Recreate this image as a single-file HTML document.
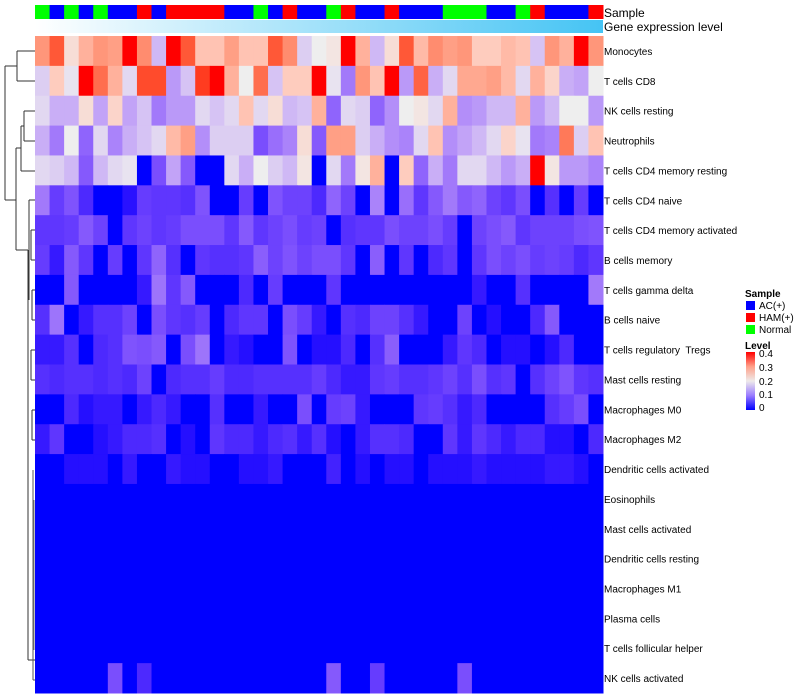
<!DOCTYPE html>
<html><head><meta charset="utf-8">
<style>
body{margin:0;background:#fff;}
svg{display:block;font-family:"Liberation Sans",sans-serif;}
#rowlabels text{white-space:pre;}
</style></head>
<body>
<svg id="chart" width="800" height="700" viewBox="0 0 800 700" xmlns="http://www.w3.org/2000/svg">
<defs>
<linearGradient id="geneGrad" x1="0" x2="1" y1="0" y2="0">
<stop offset="0" stop-color="#ffffff"/><stop offset="1" stop-color="#45c4f4"/>
</linearGradient>
<linearGradient id="levelGrad" x1="0" x2="0" y1="1" y2="0">
<stop offset="0" stop-color="#0000ff"/><stop offset="0.25" stop-color="#9a7cff"/><stop offset="0.5" stop-color="#eeeaea"/><stop offset="0.75" stop-color="#ff9f88"/><stop offset="1" stop-color="#ff0000"/>
</linearGradient>
</defs>
<g id="annot"></g>
<g id="cells"></g>
<g id="dendro" stroke="#333" stroke-width="1" fill="none">
<path d="M17,51 H35 M17,81 H35 M17,51 V81"/>
<path d="M24,111 H35 M24,141 H35 M24,111 V141"/>
<path d="M21,126 H24 M21,171 H35 M21,126 V171"/>
<path d="M16,148 H21 M16,250 H28 M16,148 V250"/>
<path d="M5,66 H17 M5,200 H16 M5,66 V200"/>
<path d="M29,200 H35 M29,200 V300"/>
<path d="M28,250 V660 M28,660 H35"/>
<path d="M31,230 H35 M31,260 H35 M31,230 V260"/>
<path d="M32,290 H35 M32,320 H35 M32,290 V320"/>
<path d="M31,350 H35 M31,380 H35 M31,350 V380"/>
<path d="M32,410 H35 M32,440 H35 M32,410 V440"/>
<path d="M33,470 V680 M33,680 H35" stroke="#555"/>
<path d="M34,500 V650" stroke="#777"/>
</g>
<text x="604" y="17" font-size="12">Sample</text>
<text x="604" y="31" font-size="12">Gene expression level</text>
<rect x="35" y="20" width="568" height="13" fill="url(#geneGrad)"/>
<g id="legend" font-size="10">
<text x="745" y="297" font-weight="bold">Sample</text>
<rect x="746" y="301" width="9" height="9" fill="#0000ff"/>
<text x="759" y="309">AC(+)</text>
<rect x="746" y="313" width="9" height="9" fill="#ff0000"/>
<text x="759" y="321">HAM(+)</text>
<rect x="746" y="325" width="9" height="9" fill="#00ff00"/>
<text x="759" y="333">Normal</text>
<text x="745" y="349" font-weight="bold">Level</text>
<rect x="746" y="352" width="9" height="58" fill="url(#levelGrad)"/>
<text x="759" y="357">0.4</text>
<text x="759" y="371">0.3</text>
<text x="759" y="385">0.2</text>
<text x="759" y="398">0.1</text>
<text x="759" y="411">0</text>
</g>
<g id="rowlabels" font-size="10"></g>
</svg>
<script>
const rowNames = ["Monocytes","T cells CD8","NK cells resting","Neutrophils","T cells CD4 memory resting","T cells CD4 naive","T cells CD4 memory activated","B cells memory","T cells gamma delta","B cells naive","T cells regulatory  Tregs","Mast cells resting","Macrophages M0","Macrophages M2","Dendritic cells activated","Eosinophils","Mast cells activated","Dendritic cells resting","Macrophages M1","Plasma cells","T cells follicular helper","NK cells activated"];
const sampleGroups = ["G","B","G","B","G","B","B","R","B","R","R","R","R","B","B","G","B","R","B","B","G","R","B","B","R","B","B","B","G","G","G","B","B","G","R","B","B","B","R"];
const z39 = new Array(39).fill(0);
const rowMonocytes = [0.3,0.36,0.22,0.27,0.3,0.29,0.4,0.31,0.15,0.4,0.36,0.25,0.25,0.29,0.25,0.25,0.36,0.31,0.17,0.2,0.21,0.4,0.27,0.15,0.22,0.36,0.26,0.31,0.29,0.3,0.24,0.24,0.26,0.25,0.16,0.3,0.27,0.4,0.3];
const rowCD8 = [0.17,0.24,0.19,0.4,0.34,0.27,0.18,0.37,0.37,0.12,0.16,0.38,0.4,0.27,0.2,0.34,0.16,0.24,0.24,0.4,0.19,0.09,0.3,0.25,0.4,0.12,0.35,0.14,0.18,0.28,0.28,0.29,0.26,0.18,0.27,0.23,0.14,0.13,0.2];
const rowNKrest = [0.18,0.14,0.14,0.22,0.13,0.23,0.13,0.16,0.09,0.12,0.12,0.18,0.16,0.18,0.25,0.18,0.22,0.15,0.16,0.27,0.07,0.18,0.17,0.07,0.11,0.2,0.21,0.18,0.27,0.11,0.12,0.15,0.15,0.27,0.12,0.15,0.2,0.2,0.12];
const rowNeut = [0.14,0.09,0.2,0.07,0.18,0.1,0.14,0.16,0.18,0.26,0.29,0.11,0.17,0.17,0.17,0.05,0.08,0.1,0.22,0.06,0.29,0.29,0.17,0.14,0.11,0.1,0.18,0.25,0.11,0.13,0.15,0.18,0.23,0.19,0.09,0.1,0.33,0.17,0.25];
const rowCD4memRest = [0.18,0.17,0.15,0.06,0.15,0.18,0.19,0,0.05,0.13,0.06,0,0,0.18,0.14,0.2,0.17,0.15,0.21,0,0.18,0.09,0.21,0.27,0,0.24,0.07,0.14,0.09,0.18,0.18,0.15,0.12,0.14,0.4,0.21,0.12,0.12,0.1];
const rowCD4naive = [0.09,0.035,0.055,0.02,0,0,0.006,0.035,0.03,0.03,0.025,0.055,0,0,0.035,0,0.055,0.04,0.04,0.02,0.07,0.04,0,0.1,0,0.08,0.03,0.06,0.09,0.06,0.07,0.04,0.03,0.05,0,0.025,0,0.035,0];
const rowCD4memAct = [0.03,0.03,0.035,0.06,0.04,0,0.03,0.04,0.03,0.035,0.05,0.05,0.05,0.03,0.06,0.03,0.04,0.05,0.035,0.04,0,0.025,0.03,0.03,0.05,0.04,0.04,0.05,0.035,0,0.04,0.05,0.06,0.03,0.04,0.04,0.04,0.05,0.055];
const rowBmem = [0.035,0.01,0.06,0.03,0,0.035,0,0.03,0.07,0.025,0,0.03,0.025,0.025,0.03,0.065,0.04,0.055,0.04,0.05,0.05,0.03,0,0.065,0,0.03,0,0.02,0.03,0,0.03,0.05,0.04,0.05,0.035,0.04,0.035,0.02,0.03];
const rowGammaDelta = [0,0,0.06,0,0,0,0,0.01,0.085,0.03,0.06,0,0,0,0.02,0,0.035,0,0,0,0.03,0,0,0,0,0,0,0,0,0,0.01,0,0,0.025,0,0,0,0,0.09];
const rowBnaive = [0.025,0.085,0,0.01,0.025,0.025,0.04,0,0.05,0.03,0.025,0.035,0,0.02,0.03,0.03,0,0.05,0.035,0.01,0,0.025,0.02,0.04,0.04,0.025,0.01,0,0,0.04,0,0.005,0,0,0.02,0.06,0,0,0];
const rowTregs = [0.01,0.01,0.025,0,0.02,0.025,0.055,0.05,0.06,0,0.05,0.085,0,0.01,0.005,0,0,0.055,0,0.005,0.005,0.02,0,0.025,0.065,0,0,0,0.01,0.03,0.02,0,0.005,0.005,0,0.005,0.02,0,0];
const rowMastRest = [0.025,0.02,0.025,0.025,0.02,0.025,0.02,0.04,0,0.02,0.025,0.025,0.035,0.02,0.02,0.025,0.025,0.025,0.025,0.035,0.02,0.01,0.01,0.03,0.035,0.025,0.025,0.03,0.04,0.025,0.05,0.025,0.03,0,0.025,0.04,0.055,0.03,0.025];
const rowM0 = [0,0,0.02,0.005,0.01,0.01,0,0.01,0.02,0.01,0,0,0.025,0,0,0.01,0,0,0.05,0,0.035,0.04,0.01,0,0,0,0.03,0.035,0.025,0.01,0.02,0,0,0,0,0.025,0.035,0.05,0];
const rowM2 = [0.01,0.03,0,0,0.005,0.01,0.02,0.02,0.025,0,0.005,0,0.03,0.02,0.02,0.01,0.02,0.025,0.01,0.025,0.005,0,0.01,0.025,0.025,0.02,0,0,0.03,0.01,0.03,0.02,0.01,0.02,0.02,0.005,0.005,0,0.02];
const rowDCact = [0,0,0.005,0.005,0.005,0,0.01,0,0,0.01,0.005,0.005,0,0,0.005,0.005,0.01,0,0,0,0.015,0,0.005,0,0.005,0.005,0,0.005,0.005,0.005,0.01,0.005,0.005,0.005,0.005,0.01,0.01,0.005,0];
const rowNKact = [0,0,0,0,0,0.05,0,0.02,0,0,0,0,0,0,0,0,0,0,0,0,0.06,0,0,0.035,0,0,0,0,0,0.05,0,0,0,0,0,0,0,0,0];
const matrix = [rowMonocytes,rowCD8,rowNKrest,rowNeut,rowCD4memRest,rowCD4naive,rowCD4memAct,rowBmem,rowGammaDelta,rowBnaive,rowTregs,rowMastRest,rowM0,rowM2,rowDCact,z39,z39,z39,z39,z39,z39,rowNKact];

const X0=35, X1=603, Y0=36, Y1=693;
const nCols = sampleGroups.length, nRows = rowNames.length;
const cw=(X1-X0)/nCols, rh=(Y1-Y0)/nRows;
function xPos(j){return X0+j*cw;}
function yPos(i){return Y0+i*rh;}
function s2l(c){c/=255;return c<=0.04045?c/12.92:Math.pow((c+0.055)/1.055,2.4);}
function l2s(c){c=c<=0.0031308?12.92*c:1.055*Math.pow(c,1/2.4)-0.055;return Math.round(Math.max(0,Math.min(1,c))*255);}
function toLab(rgb){
  const [r,g,b]=rgb.map(s2l);
  let x=(0.4124*r+0.3576*g+0.1805*b)/0.95047,y=(0.2126*r+0.7152*g+0.0722*b),z=(0.0193*r+0.1192*g+0.9505*b)/1.08883;
  const f=t=>t>0.008856?Math.cbrt(t):7.787*t+16/116;
  const fx=f(x),fy=f(y),fz=f(z);
  return [116*fy-16,500*(fx-fy),200*(fy-fz)];
}
function fromLab(lab){
  const fy=(lab[0]+16)/116,fx=fy+lab[1]/500,fz=fy-lab[2]/200;
  const fi=t=>t*t*t>0.008856?t*t*t:(t-16/116)/7.787;
  const x=fi(fx)*0.95047,y=fi(fy),z=fi(fz)*1.08883;
  const r=3.2406*x-1.5372*y-0.4986*z,g=-0.9689*x+1.8758*y+0.0415*z,b=0.0557*x-0.2040*y+1.0570*z;
  return [l2s(r),l2s(g),l2s(b)];
}
const LO=toLab([0,0,255]),MID=toLab([238,238,238]),HI=toLab([255,0,0]);
function colorOf(v){
  let t=Math.max(0,Math.min(1,v/0.4));
  let a,b,u;
  if(t<0.5){a=LO;b=MID;u=t/0.5;}else{a=MID;b=HI;u=(t-0.5)/0.5;}
  const c=fromLab(a.map((x,k)=>x+(b[k]-x)*u));
  return `rgb(${c[0]},${c[1]},${c[2]})`;
}
const NS="http://www.w3.org/2000/svg";
const groupColor={B:"#0000ff",R:"#ff0000",G:"#00ff00"};
const annot=document.getElementById('annot');
sampleGroups.forEach((g,j)=>{
  const r=document.createElementNS(NS,'rect');
  r.setAttribute('x',xPos(j));r.setAttribute('y',5);
  r.setAttribute('width',cw+0.5);r.setAttribute('height',14);
  r.setAttribute('fill',groupColor[g]);
  
  
  annot.appendChild(r);
});
const cells=document.getElementById('cells');
matrix.forEach((row,i)=>{
  row.forEach((v,j)=>{
    const r=document.createElementNS(NS,'rect');
    r.setAttribute('x',xPos(j));r.setAttribute('y',yPos(i));
    r.setAttribute('width',cw+0.5);r.setAttribute('height',rh+0.5);
    r.setAttribute('fill',colorOf(v));
    
    
    cells.appendChild(r);
  });
});
const rl=document.getElementById('rowlabels');
rowNames.forEach((n,i)=>{
  const t=document.createElementNS(NS,'text');
  t.setAttribute('x',604);t.setAttribute('y',yPos(i)+rh/2+4);
  t.textContent=n;
  
  
  rl.appendChild(t);
});
</script>
</body></html>
